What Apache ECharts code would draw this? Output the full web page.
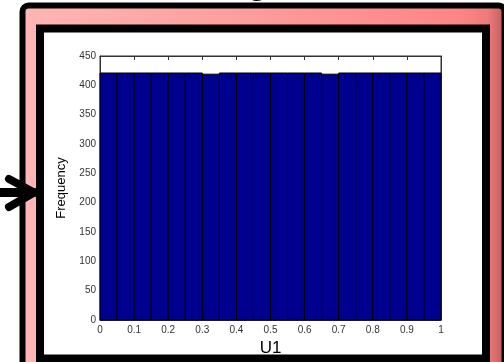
<!DOCTYPE html>
<html>
<head>
<meta charset="utf-8">
<script src="https://cdn.jsdelivr.net/npm/echarts@6/dist/echarts.min.js"></script>
<style>
  html, body { margin: 0; padding: 0; background: #fff; }
  #chart { width: 504px; height: 362px; }
</style>
</head>
<body>
<div id="chart"></div>
<script>
// histogram of U1, 20 bins on [0, 1]
const binEdges = [0, 0.05, 0.1, 0.15, 0.2, 0.25, 0.3, 0.35, 0.4, 0.45, 0.5,
                  0.55, 0.6, 0.65, 0.7, 0.75, 0.8, 0.85, 0.9, 0.95, 1];
const counts = [421, 421, 421, 421, 421, 421, 419, 421, 421, 421,
                421, 421, 421, 419, 421, 421, 421, 421, 421, 421];
const xTicks = [0, 0.1, 0.2, 0.3, 0.4, 0.5, 0.6, 0.7, 0.8, 0.9, 1];
const yTicks = [0, 50, 100, 150, 200, 250, 300, 350, 400, 450];

const barData = counts.map((c, i) => [binEdges[i], binEdges[i + 1], c]);

const chart = echarts.init(document.getElementById('chart'));

const axisCommon = {
  axisLine: { show: true, onZero: false, lineStyle: { color: '#333', width: 1 } },
  axisTick: { show: true, inside: true, length: 4, lineStyle: { color: '#333' } },
  splitLine: { show: false }
};

chart.setOption({
  animation: false,
  backgroundColor: '#fff',
  textStyle: { fontFamily: 'Liberation Sans, Arial, sans-serif' },
  graphic: [
    {
      type: 'text', z: -20, left: 247, top: -32,
      style: { text: 'g', fontSize: 34, fontWeight: 'bold', fill: '#000', fontFamily: 'Liberation Sans' }
    },
    {
      type: 'rect', z: -10,
      shape: { x: 22.5, y: 5.5, width: 482, height: 420, r: 6 },
      style: {
        fill: new echarts.graphic.LinearGradient(0, 0, 1, 0, [
          { offset: 0, color: '#ffb6b6' },
          { offset: 0.9, color: '#ff8585' },
          { offset: 0.96, color: '#ee7a7a' },
          { offset: 1, color: '#b85858' }
        ]),
        stroke: '#000', lineWidth: 6
      }
    },
    {
      type: 'rect', z: -5,
      shape: { x: 40, y: 28.5, width: 446, height: 330 },
      style: { fill: '#fff', stroke: '#000', lineWidth: 8 }
    },
    {
      type: 'polyline', z: 50,
      shape: { points: [[0, 192.5], [34, 192.5]] },
      style: { stroke: '#000', lineWidth: 9, lineCap: 'round' }
    },
    {
      type: 'polyline', z: 50,
      shape: { points: [[9, 179], [34, 192.5], [9, 207]] },
      style: { stroke: '#000', lineWidth: 8, lineCap: 'round', lineJoin: 'round', fill: null }
    }
  ],
  grid: {
    left: 100, right: 63, top: 56, bottom: 42,
    show: true, backgroundColor: '#fff', borderColor: '#333', borderWidth: 1
  },
  xAxis: [
    Object.assign({
      type: 'value', min: 0, max: 1, interval: 0.1, position: 'bottom',
      name: 'U1', nameLocation: 'middle', nameGap: 16,
      nameTextStyle: { fontSize: 17, color: '#000' },
      axisLabel: { fontSize: 10, color: '#333', margin: 5 }
    }, axisCommon),
    Object.assign({
      type: 'value', min: 0, max: 1, interval: 0.1, position: 'top',
      axisLabel: { show: false }
    }, axisCommon)
  ],
  yAxis: [
    Object.assign({
      type: 'value', min: 0, max: 450, interval: 50, position: 'left',
      name: 'Frequency', nameLocation: 'middle', nameGap: 24,
      nameTextStyle: { fontSize: 13, color: '#000' },
      axisLabel: { fontSize: 10, color: '#333', margin: 4 }
    }, axisCommon),
    Object.assign({
      type: 'value', min: 0, max: 450, interval: 50, position: 'right',
      axisLabel: { show: false }
    }, axisCommon)
  ],
  series: [{
    type: 'custom',
    xAxisIndex: 0, yAxisIndex: 0,
    data: barData,
    renderItem: function (params, api) {
      const p0 = api.coord([api.value(0), 0]);
      const p1 = api.coord([api.value(1), api.value(2)]);
      return {
        type: 'rect',
        shape: { x: p0[0], y: p1[1], width: p1[0] - p0[0], height: p0[1] - p1[1] },
        style: { fill: '#00008f', stroke: '#000', lineWidth: 1 }
      };
    }
  }]
});
</script>
</body>
</html>
